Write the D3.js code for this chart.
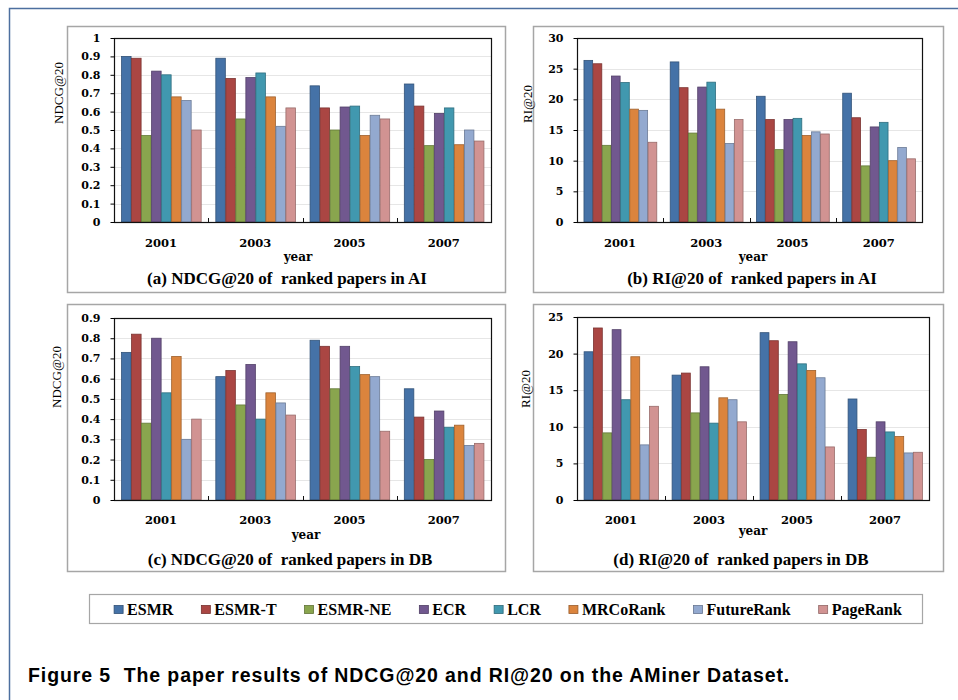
<!DOCTYPE html>
<html>
<head>
<meta charset="utf-8">
<script src="https://cdn.jsdelivr.net/npm/d3@7"></script>
<style>
  body { margin: 0; background: #fff; }
  svg { display: block; }
  .tick text { font-family: "DejaVu Serif", serif; font-weight: bold; font-size: 11px; fill: #000; }
  .serif { font-family: "Liberation Serif", "Times New Roman", serif; }
</style>
</head>
<body>
<div id="chart"></div>
<script>
const years = ["2001", "2003", "2005", "2007"];
const methods = ["ESMR", "ESMR-T", "ESMR-NE", "ECR", "LCR", "MRCoRank", "FutureRank", "PageRank"];
const colors = ["#4572A7", "#AA4643", "#89A54E", "#71588F", "#4198AF", "#DB843D", "#93A9CF", "#D19392"];

// one row per year, values in the order of methods
const ndcgAI = [
    [0.90, 0.89, 0.47, 0.82, 0.80, 0.68, 0.66, 0.50],
    [0.89, 0.78, 0.56, 0.785, 0.81, 0.68, 0.52, 0.62],
    [0.74, 0.62, 0.50, 0.625, 0.63, 0.47, 0.58, 0.56],
    [0.75, 0.63, 0.415, 0.59, 0.62, 0.42, 0.50, 0.44]
];
const riAI = [
    [26.35, 25.8, 12.5, 23.8, 22.75, 18.4, 18.2, 13.0],
    [26.1, 21.9, 14.5, 22.0, 22.8, 18.4, 12.8, 16.7],
    [20.5, 16.7, 11.8, 16.7, 16.9, 14.1, 14.7, 14.35],
    [21.0, 17.0, 9.15, 15.5, 16.25, 10.0, 12.15, 10.3]
];
const ndcgDB = [
    [0.73, 0.82, 0.38, 0.80, 0.53, 0.71, 0.30, 0.40],
    [0.61, 0.64, 0.47, 0.67, 0.40, 0.53, 0.48, 0.42],
    [0.79, 0.76, 0.55, 0.76, 0.66, 0.62, 0.61, 0.34],
    [0.55, 0.41, 0.20, 0.44, 0.36, 0.37, 0.27, 0.28]
];
const riDB = [
    [20.25, 23.5, 9.17, 23.27, 13.7, 19.57, 7.53, 12.8],
    [17.06, 17.34, 11.9, 18.2, 10.5, 13.96, 13.7, 10.68],
    [22.86, 21.76, 14.42, 21.62, 18.6, 17.7, 16.7, 7.25],
    [13.8, 9.63, 5.84, 10.68, 9.3, 8.67, 6.43, 6.52]
];

const ticksNdcgAI = [0, 0.1, 0.2, 0.3, 0.4, 0.5, 0.6, 0.7, 0.8, 0.9, 1];
const ticksRiAI = [0, 5, 10, 15, 20, 25, 30];
const ticksNdcgDB = [0, 0.1, 0.2, 0.3, 0.4, 0.5, 0.6, 0.7, 0.8, 0.9];
const ticksRiDB = [0, 5, 10, 15, 20, 25];

const captions = [
    "(a) NDCG@20 of  ranked papers in AI",
    "(b) RI@20 of  ranked papers in AI",
    "(c) NDCG@20 of  ranked papers in DB",
    "(d) RI@20 of  ranked papers in DB"
];
const figureCaption = "Figure 5  The paper results of NDCG@20 and RI@20 on the AMiner Dataset.";

const W = 958, H = 700;

const svg = d3.select("#chart").append("svg")
    .attr("width", W)
    .attr("height", H);

// outer page frame (blue)
svg.append("path")
    .attr("d", `M9.5,${H} V8.5 H${W}`)
    .attr("fill", "none")
    .attr("stroke", "#4d6f9f")
    .attr("stroke-width", 1.5);

// layout for each panel
const panels = [
    { data: ndcgAI, ticks: ticksNdcgAI, yTitle: "NDCG@20", caption: captions[0],
      box: [67, 26, 505, 292], plot: [114, 38, 491, 222],
      yTitleAt: [58, 93], yearY: 247, xTitleAt: [298, 261], capAt: [287, 284] },
    { data: riAI, ticks: ticksRiAI, yTitle: "RI@20", caption: captions[1],
      box: [533, 26, 943, 292], plot: [577, 38, 922, 222],
      yTitleAt: [527, 104], yearY: 247, xTitleAt: [753, 261], capAt: [752, 284] },
    { data: ndcgDB, ticks: ticksNdcgDB, yTitle: "NDCG@20", caption: captions[2],
      box: [67, 304, 505, 571], plot: [114, 318, 491, 500],
      yTitleAt: [56, 377], yearY: 524, xTitleAt: [306, 539], capAt: [290, 565] },
    { data: riDB, ticks: ticksRiDB, yTitle: "RI@20", caption: captions[3],
      box: [533, 304, 943, 571], plot: [577, 317, 929, 500],
      yTitleAt: [525, 389], yearY: 524, xTitleAt: [753, 535], capAt: [741, 565] }
];

panels.forEach(drawPanel);

function drawPanel(p) {
    const [bx0, by0, bx1, by1] = p.box;
    const [px0, py0, px1, py1] = p.plot;

    svg.append("rect")
        .attr("x", bx0 + 0.5).attr("y", by0 + 0.5)
        .attr("width", bx1 - bx0).attr("height", by1 - by0)
        .attr("fill", "#fff")
        .attr("stroke", "#a6a6a6")
        .attr("stroke-width", 1.5);

    const x0 = d3.scaleBand()
        .domain(years)
        .range([px0, px1])
        .paddingInner(0.15)
        .paddingOuter(0.075);

    const x1 = d3.scaleBand()
        .domain(methods)
        .range([0, x0.bandwidth()]);

    const y = d3.scaleLinear()
        .domain([0, d3.max(p.ticks)])
        .range([py1, py0]);

    const g = svg.append("g");

    // grid lines
    g.selectAll("line.grid")
        .data(p.ticks.slice(1))
        .enter().append("line")
        .attr("class", "grid")
        .attr("x1", px0).attr("x2", px1)
        .attr("y1", d => Math.round(y(d)) + 0.5)
        .attr("y2", d => Math.round(y(d)) + 0.5)
        .attr("stroke", "#e6e6e6");

    // bars
    const groups = g.selectAll("g.year")
        .data(p.data)
        .enter().append("g")
        .attr("transform", (d, i) => `translate(${x0(years[i])},0)`);

    groups.selectAll("rect")
        .data(d => d.map((v, j) => ({ v, j })))
        .enter().append("rect")
        .attr("x", d => x1(methods[d.j]) + 0.5)
        .attr("y", d => y(d.v))
        .attr("width", x1.bandwidth() - 0.5)
        .attr("height", d => py1 - y(d.v))
        .attr("fill", d => colors[d.j])
        .attr("stroke", d => d3.color(colors[d.j]).darker(0.9))
        .attr("stroke-width", 0.8);

    // plot border
    g.append("rect")
        .attr("x", px0 + 0.5).attr("y", py0 + 0.5)
        .attr("width", px1 - px0).attr("height", py1 - py0)
        .attr("fill", "none")
        .attr("stroke", "#111")
        .attr("stroke-width", 1.2);

    // y axis
    const yAxis = d3.axisLeft(y)
        .tickValues(p.ticks)
        .tickFormat(d => String(d))
        .tickSize(4)
        .tickPadding(10);
    g.append("g")
        .attr("transform", `translate(${px0 + 0.5},0)`)
        .call(yAxis)
        .call(a => a.select(".domain").remove());

    // category separators on the x axis
    g.selectAll("line.sep")
        .data(years.slice(1))
        .enter().append("line")
        .attr("x1", d => Math.round(x0(d) - x0.step() * x0.paddingInner() / 2) + 0.5)
        .attr("x2", d => Math.round(x0(d) - x0.step() * x0.paddingInner() / 2) + 0.5)
        .attr("y1", py1).attr("y2", py1 - 4)
        .attr("stroke", "#111");

    g.selectAll("text.year")
        .data(years)
        .enter().append("text")
        .attr("x", d => x0(d) + x0.bandwidth() / 2)
        .attr("y", p.yearY)
        .attr("text-anchor", "middle")
        .style("font-family", "'DejaVu Serif', serif")
        .style("font-weight", "bold")
        .style("font-size", "11.5px")
        .text(d => d);

    g.append("text")
        .attr("x", p.xTitleAt[0]).attr("y", p.xTitleAt[1])
        .attr("text-anchor", "middle")
        .style("font-family", "'DejaVu Serif', serif")
        .style("font-weight", "bold")
        .style("font-size", "12px")
        .text("year");

    g.append("text")
        .attr("class", "serif")
        .attr("transform", `translate(${p.yTitleAt[0]},${p.yTitleAt[1]}) rotate(-90)`)
        .attr("text-anchor", "middle")
        .attr("dy", "0.35em")
        .style("font-size", "13px")
        .text(p.yTitle);

    g.append("text")
        .attr("class", "serif")
        .attr("x", p.capAt[0]).attr("y", p.capAt[1])
        .attr("text-anchor", "middle")
        .style("font-size", "17px")
        .style("font-weight", "bold")
        .style("white-space", "pre")
        .text(p.caption);
}

// legend
svg.append("rect")
    .attr("x", 89.5).attr("y", 594.5)
    .attr("width", 833).attr("height", 29)
    .attr("fill", "#fff")
    .attr("stroke", "#a6a6a6")
    .attr("stroke-width", 1.2);

const legend = svg.append("g");
const items = legend.selectAll("g")
    .data(methods)
    .enter().append("g");

items.append("rect")
    .attr("width", 9).attr("height", 8)
    .attr("y", 605.5)
    .attr("fill", (d, i) => colors[i])
    .attr("stroke", (d, i) => d3.color(colors[i]).darker(1))
    .attr("stroke-width", 0.8);

items.append("text")
    .attr("class", "serif")
    .attr("x", 13)
    .attr("y", 615)
    .style("font-size", "16px")
    .style("font-weight", "bold")
    .text(d => d);

// place items one after another, then center the row
const gap = 28;
let cursor = 0;
const offsets = [];
items.each(function () {
    offsets.push(cursor);
    const tw = d3.select(this).select("text").node().getComputedTextLength();
    cursor += 13 + tw + gap;
});
const rowWidth = cursor - gap;
const startX = 508 - rowWidth / 2;
items.attr("transform", (d, i) => `translate(${startX + offsets[i]},0)`);

// figure caption
svg.append("text")
    .attr("x", 28).attr("y", 682)
    .style("font-family", "'Liberation Sans', Arial, sans-serif")
    .style("font-weight", "bold")
    .style("font-size", "19.5px")
    .style("letter-spacing", "0.9px")
    .style("white-space", "pre")
    .text(figureCaption);
</script>
</body>
</html>
